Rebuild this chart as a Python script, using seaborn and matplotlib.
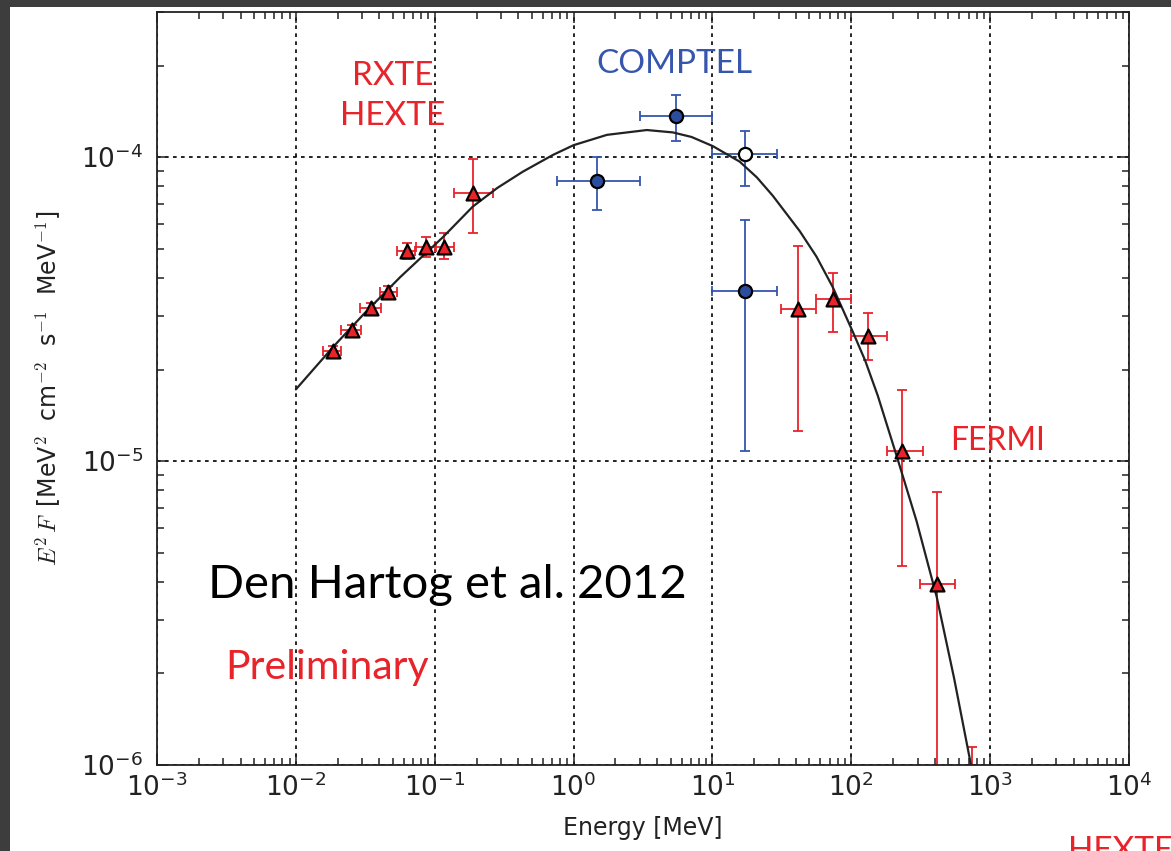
import numpy as np
import pandas as pd
import matplotlib
matplotlib.use("Agg")
import matplotlib.pyplot as plt
import seaborn as sns
from matplotlib.patches import Rectangle
from matplotlib.ticker import LogLocator, LogFormatterSciNotation, NullFormatter

# ---------------- data ----------------
rxte_E    = [0.0185, 0.0254, 0.0348, 0.0461, 0.0631, 0.0865, 0.1164, 0.188]
rxte_E_lo = [0.0156, 0.0212, 0.0288, 0.0404, 0.0537, 0.0733, 0.1020, 0.137]
rxte_E_hi = [0.0213, 0.0293, 0.0408, 0.0534, 0.0720, 0.1002, 0.1370, 0.262]
rxte_F    = [2.30e-5, 2.70e-5, 3.19e-5, 3.61e-5, 4.89e-5, 5.04e-5, 5.04e-5, 7.63e-5]
rxte_F_lo = [2.21e-5, 2.60e-5, 3.07e-5, 3.47e-5, 4.62e-5, 4.68e-5, 4.62e-5, 5.61e-5]
rxte_F_hi = [2.39e-5, 2.81e-5, 3.32e-5, 3.76e-5, 5.20e-5, 5.45e-5, 5.61e-5, 9.86e-5]

comptel_E    = [1.48, 5.46, 17.1]
comptel_E_lo = [0.755, 3.0, 10.0]
comptel_E_hi = [3.0, 10.0, 29.2]
comptel_F    = [8.37e-5, 1.36e-4, 3.63e-5]
comptel_F_lo = [6.67e-5, 1.13e-4, 1.08e-5]
comptel_F_hi = [1.00e-4, 1.60e-4, 6.21e-5]

comptel_open_E    = [17.1]
comptel_open_E_lo = [10.0]
comptel_open_E_hi = [29.2]
comptel_open_F    = [1.02e-4]
comptel_open_F_lo = [8.0e-5]
comptel_open_F_hi = [1.22e-4]

fermi_E    = [41.4, 74.0, 132.0, 232.0, 415.0, 746.0]
fermi_E_lo = [31.4, 55.8, 100.0, 180.0, 311.0, 556.0]
fermi_E_hi = [55.5, 99.7, 180.0, 330.0, 556.0, 1000.0]
fermi_F    = [3.16e-5, 3.41e-5, 2.58e-5, 1.08e-5, 3.93e-6, 6.0e-7]
fermi_F_lo = [1.26e-5, 2.66e-5, 2.15e-5, 4.51e-6, 1.0e-7, 1.0e-7]
fermi_F_hi = [5.08e-5, 4.16e-5, 3.07e-5, 1.71e-5, 7.9e-6, 1.15e-6]

# model curve
model_E = [0.01, 0.0185, 0.0316, 0.0562, 0.1146, 0.188, 0.282, 0.431, 0.710, 1.0,
           1.74, 3.37, 5.19, 7.08, 10.07, 15.7, 20.9, 27.2, 42.6, 56.2,
           73.6, 102.6, 125.9, 155.2, 212.8, 295.0, 413.0, 550.0, 713.0, 891.0]
model_F = [1.72e-5, 2.37e-5, 3.08e-5, 4.02e-5, 5.45e-5, 6.87e-5, 7.91e-5, 8.95e-5, 1.016e-4, 1.094e-4,
           1.183e-4, 1.227e-4, 1.205e-4, 1.164e-4, 1.086e-4, 9.66e-5, 8.57e-5, 7.46e-5, 5.70e-5, 4.70e-5,
           3.73e-5, 2.66e-5, 2.14e-5, 1.64e-5, 1.035e-5, 6.35e-6, 3.56e-6, 1.93e-6, 1.05e-6, 6.1e-7]

# ---------------- styling ----------------
RED = "#e8232a"
BLUE = "#3656ad"
BLUE_FILL = "#2c4d9e"

sns.set_style("ticks", {"xtick.direction": "in", "ytick.direction": "in"})
plt.rcParams["font.family"] = ["DejaVu Sans"]
plt.rcParams["mathtext.fontset"] = "cm"

W, H = 1171, 851
fig = plt.figure(figsize=(W / 100, H / 100), dpi=100)
fig.patch.set_facecolor("#3d3d3d")
fig.add_artist(Rectangle((10 / W, 0), 1, (H - 7) / H, transform=fig.transFigure,
                         facecolor="white", edgecolor="none", zorder=-10))

L, R, B, T = 157, 1129, 765, 12
ax = fig.add_axes([L / W, (H - B) / H, (R - L) / W, (B - T) / H])
ax.set_facecolor("white")

ax.set_xscale("log")
ax.set_yscale("log")


def err(v, lo, hi):
    v = np.asarray(v)
    return np.vstack([v - np.asarray(lo), np.asarray(hi) - v])


# model curve
sns.lineplot(x=model_E, y=model_F, ax=ax, color="#222222", lw=1.6, sort=False,
             estimator=None, zorder=3)

ekw = dict(fmt="none", elinewidth=1.3, capsize=3.8, capthick=1.3, zorder=2)
ax.errorbar(rxte_E, rxte_F, xerr=err(rxte_E, rxte_E_lo, rxte_E_hi),
            yerr=err(rxte_F, rxte_F_lo, rxte_F_hi), ecolor=RED, **ekw)
ax.errorbar(fermi_E, fermi_F, xerr=err(fermi_E, fermi_E_lo, fermi_E_hi),
            yerr=err(fermi_F, fermi_F_lo, fermi_F_hi), ecolor=RED, **ekw)
ax.errorbar(comptel_E, comptel_F, xerr=err(comptel_E, comptel_E_lo, comptel_E_hi),
            yerr=err(comptel_F, comptel_F_lo, comptel_F_hi), ecolor=BLUE, **ekw)
ax.errorbar(comptel_open_E, comptel_open_F,
            xerr=err(comptel_open_E, comptel_open_E_lo, comptel_open_E_hi),
            yerr=err(comptel_open_F, comptel_open_F_lo, comptel_open_F_hi), ecolor=BLUE, **ekw)

sns.scatterplot(x=rxte_E + fermi_E, y=rxte_F + fermi_F, ax=ax, marker="^", s=100,
                color=RED, edgecolor="black", linewidth=1.6, zorder=4)
sns.scatterplot(x=comptel_E, y=comptel_F, ax=ax, marker="o", s=90,
                color=BLUE_FILL, edgecolor="black", linewidth=1.6, zorder=4)
sns.scatterplot(x=comptel_open_E, y=comptel_open_F, ax=ax, marker="o", s=90,
                color="white", edgecolor="black", linewidth=1.6, zorder=4)
ax.set_xlim(1e-3, 1e4)
ax.set_ylim(1e-6, 3e-4)

# grid
ax.grid(True, which="major", color="black", linestyle=(0, (2.2, 2.6)), linewidth=1.2)
ax.set_axisbelow(True)

# ticks
for axis in (ax.xaxis, ax.yaxis):
    axis.set_major_locator(LogLocator(base=10, numticks=20))
    axis.set_minor_locator(LogLocator(base=10, subs=np.arange(2, 10), numticks=20))
    axis.set_minor_formatter(NullFormatter())
    axis.set_major_formatter(LogFormatterSciNotation())
ax.tick_params(which="both", direction="in", top=True, right=True, colors="#222222",
               labelcolor="#222222")
ax.tick_params(which="major", length=8, width=1.1, labelsize=19)
ax.tick_params(which="minor", length=5, width=1.1)
ax.tick_params(axis="y", which="major", pad=10)
ax.tick_params(axis="x", which="major", pad=6)
for s in ax.spines.values():
    s.set_color("#222222")
    s.set_linewidth(1.3)

ax.set_xlabel("Energy [MeV]", fontsize=17, color="#222222", labelpad=10)
ax.set_ylabel(r"$E^2\,F\,$ [MeV$^2$  cm$^{-2}$  s$^{-1}$  MeV$^{-1}$]", fontsize=17,
              color="#222222", labelpad=14)


def ftext(x, y, s, **kw):
    fig.text(x / W, (H - y) / H, s, **kw)


LBL = ["Lato", "DejaVu Sans"]
ftext(393, 85, "RXTE", color=RED, fontsize=24, ha="center", va="baseline", family=LBL)
ftext(393, 125, "HEXTE", color=RED, fontsize=24, ha="center", va="baseline", family=LBL)
ftext(674, 73, "COMPTEL", color=BLUE, fontsize=24, ha="center", va="baseline", family=LBL)
ftext(950, 450, "FERMI", color=RED, fontsize=23, ha="left", va="baseline", family=LBL)
ftext(225, 679, "Preliminary", color=RED, fontsize=29.5, ha="left", va="baseline", family=LBL)
ftext(208, 598, "Den Hartog et al. 2012", color="black", fontsize=34, ha="left",
      va="baseline", family=LBL)
ftext(1068, 860, "HEXTE", color=RED, fontsize=24, ha="left", va="baseline", family=LBL)

fig.savefig("out.png", dpi=100, facecolor=fig.get_facecolor())
